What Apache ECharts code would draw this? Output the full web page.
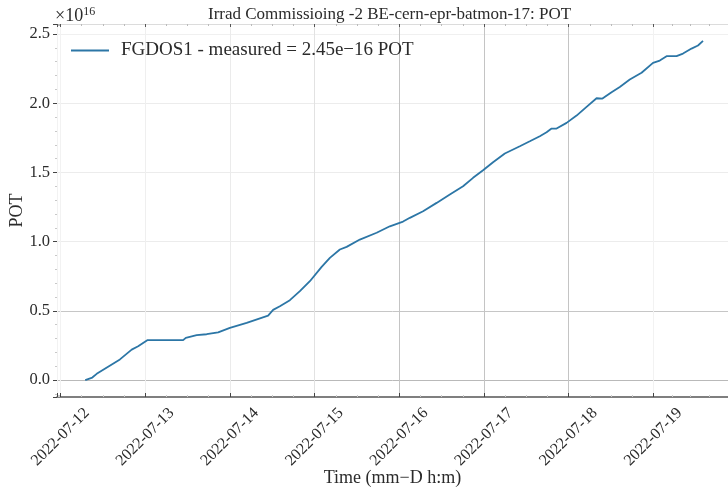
<!DOCTYPE html>
<html>
<head>
<meta charset="utf-8">
<script src="https://cdn.jsdelivr.net/npm/echarts@6/dist/echarts.min.js"></script>
<style>
  html, body { margin: 0; padding: 0; background: #fff; }
  #chart { width: 728px; height: 491px; }
</style>
</head>
<body>
<div id="chart"></div>
<script>
// Cumulative protons on target measured by FGDOS1 (values in units of 1e16)
const times = [
  '2022-07-12 07:00', '2022-07-12 09:00', '2022-07-12 10:15', '2022-07-12 16:50',
  '2022-07-12 20:10', '2022-07-12 22:00', '2022-07-13 00:35', '2022-07-13 10:45',
  '2022-07-13 11:30', '2022-07-13 14:35', '2022-07-13 17:25', '2022-07-13 20:40',
  '2022-07-14 00:00', '2022-07-14 04:45', '2022-07-14 10:50', '2022-07-14 12:15',
  '2022-07-14 14:10', '2022-07-14 17:00', '2022-07-14 19:50', '2022-07-14 22:40',
  '2022-07-15 02:00', '2022-07-15 04:20', '2022-07-15 07:10', '2022-07-15 09:05',
  '2022-07-15 12:50', '2022-07-15 17:35', '2022-07-15 21:20', '2022-07-16 01:05',
  '2022-07-16 03:00', '2022-07-16 06:45', '2022-07-16 10:35', '2022-07-16 14:20',
  '2022-07-16 18:05', '2022-07-16 20:55', '2022-07-16 23:45', '2022-07-17 02:35',
  '2022-07-17 05:55', '2022-07-17 10:10', '2022-07-17 13:00', '2022-07-17 15:50',
  '2022-07-17 17:45', '2022-07-17 19:10', '2022-07-17 20:35', '2022-07-17 23:25',
  '2022-07-18 02:15', '2022-07-18 05:05', '2022-07-18 07:55', '2022-07-18 09:35',
  '2022-07-18 12:10', '2022-07-18 14:30', '2022-07-18 17:20', '2022-07-18 20:40',
  '2022-07-18 23:55', '2022-07-19 01:50', '2022-07-19 03:45', '2022-07-19 06:35',
  '2022-07-19 08:25', '2022-07-19 10:50', '2022-07-19 12:40', '2022-07-19 14:05'
];
const potValues = [
  0.000, 0.018, 0.045, 0.149,
  0.220, 0.244, 0.288, 0.288,
  0.305, 0.324, 0.331, 0.345,
  0.377, 0.413, 0.466, 0.507,
  0.533, 0.577, 0.642, 0.714,
  0.818, 0.883, 0.943, 0.962,
  1.015, 1.064, 1.111, 1.145,
  1.172, 1.220, 1.280, 1.340,
  1.400, 1.461, 1.516, 1.574,
  1.637, 1.689, 1.725, 1.762,
  1.790, 1.817, 1.817, 1.858,
  1.911, 1.974, 2.036, 2.034,
  2.080, 2.118, 2.171, 2.220,
  2.292, 2.308, 2.340, 2.340,
  2.359, 2.395, 2.417, 2.450
];
const seriesName = 'FGDOS1 - measured = 2.45e\u221216 POT';
const titleText = 'Irrad Commissioing -2 BE-cern-epr-batmon-17: POT';
const xAxisTitle = 'Time (mm\u2212D h:m)';
const yAxisTitle = 'POT';

const FONT = '"Liberation Serif", "DejaVu Serif", serif';
const TEXT = '#2b2b2b';

const chart = echarts.init(document.getElementById('chart'), null, { renderer: 'canvas' });

const xMin = '2022-07-11 23:00';
const xMax = '2022-07-19 21:10';

chart.setOption({
  animation: false,
  backgroundColor: '#ffffff',
  title: {
    text: titleText,
    left: 203,
    top: 1,
    textStyle: { fontFamily: FONT, fontSize: 17, fontWeight: 'normal', color: TEXT }
  },
  graphic: [{
    type: 'text',
    left: 55,
    top: 6,
    style: {
      text: '{a|\u00d710}{b|16}',
      rich: {
        a: { fontFamily: FONT, fontSize: 18, fill: TEXT },
        b: { fontFamily: FONT, fontSize: 12, fill: TEXT, padding: [0, 0, 9, 0] }
      }
    }
  }],
  legend: {
    left: 66,
    top: 36,
    icon: 'rect',
    itemWidth: 38,
    itemHeight: 2,
    textStyle: { fontFamily: FONT, fontSize: 19, color: TEXT, padding: [0, 0, 0, 7] },
    data: [seriesName]
  },
  grid: { left: 57, right: 0, top: 24, bottom: 94, containLabel: false, outerBoundsMode: 'none' },
  xAxis: [{
    type: 'time',
    min: xMin,
    max: xMax,
    minInterval: 86400000,
    maxInterval: 86400000,
    name: xAxisTitle,
    nameLocation: 'middle',
    nameGap: 72,
    nameMoveOverlap: false,
    nameTextStyle: { fontFamily: FONT, fontSize: 18, color: TEXT },
    axisLine: { show: true, onZero: false, lineStyle: { color: '#555', width: 1.5 } },
    axisTick: { show: true, inside: true, length: 4, lineStyle: { color: '#444' } },
    minorTick: { show: true, splitNumber: 4, length: 2, lineStyle: { color: '#ccc' } },
    axisLabel: {
      rotate: 45,
      align: 'center',
      verticalAlign: 'middle',
      margin: 40,
      fontFamily: FONT,
      fontSize: 16,
      color: TEXT,
      hideOverlap: false,
      formatter: function (v) { return echarts.time.format(v, '{yyyy}-{MM}-{dd}', false); }
    },
    splitLine: {
      show: true,
      lineStyle: {
        width: 1,
        color: ['#f2f2f2', '#f2f2f2', '#efefef', '#ebebeb', '#e2e2e2', '#c4c4c4', '#c4c4c4', '#c4c4c4']
      }
    }
  }, {
    type: 'time',
    position: 'top',
    min: xMin,
    max: xMax,
    minInterval: 86400000,
    maxInterval: 86400000,
    axisLine: { show: true, onZero: false, lineStyle: { color: '#dcdcdc', width: 1 } },
    axisTick: { show: true, inside: true, length: 3, lineStyle: { color: '#555' } },
    minorTick: { show: true, splitNumber: 4, length: 2, lineStyle: { color: '#bbb' } },
    axisLabel: { show: false },
    splitLine: { show: false }
  }],
  yAxis: {
    type: 'value',
    min: -0.1225,
    max: 2.5725,
    splitNumber: 5,
    name: yAxisTitle,
    nameLocation: 'middle',
    nameGap: 31,
    nameMoveOverlap: false,
    nameTextStyle: { fontFamily: FONT, fontSize: 18, color: TEXT },
    axisLine: { show: false },
    axisTick: { show: true, length: 4, lineStyle: { color: '#444' } },
    minorTick: { show: true, splitNumber: 5, length: 2, lineStyle: { color: '#c8c8c8' } },
    axisLabel: {
      showMinLabel: false,
      showMaxLabel: false,
      margin: 7,
      fontFamily: FONT,
      fontSize: 16.5,
      color: TEXT,
      formatter: function (v) { return v.toFixed(1); }
    },
    splitLine: {
      show: true,
      lineStyle: {
        width: 1,
        color: ['rgba(0,0,0,0)', '#b9b9b9', '#c6c6c6', '#ececec', '#ececec', '#ececec', '#f0f0f0', 'rgba(0,0,0,0)']
      }
    }
  },
  series: [{
    name: seriesName,
    type: 'line',
    xAxisIndex: 0,
    data: times.map((t, i) => [t, potValues[i]]),
    showSymbol: false,
    symbol: 'none',
    lineStyle: { color: '#2c76a6', width: 1.8 },
    itemStyle: { color: '#2c76a6' }
  }]
});
</script>
</body>
</html>
